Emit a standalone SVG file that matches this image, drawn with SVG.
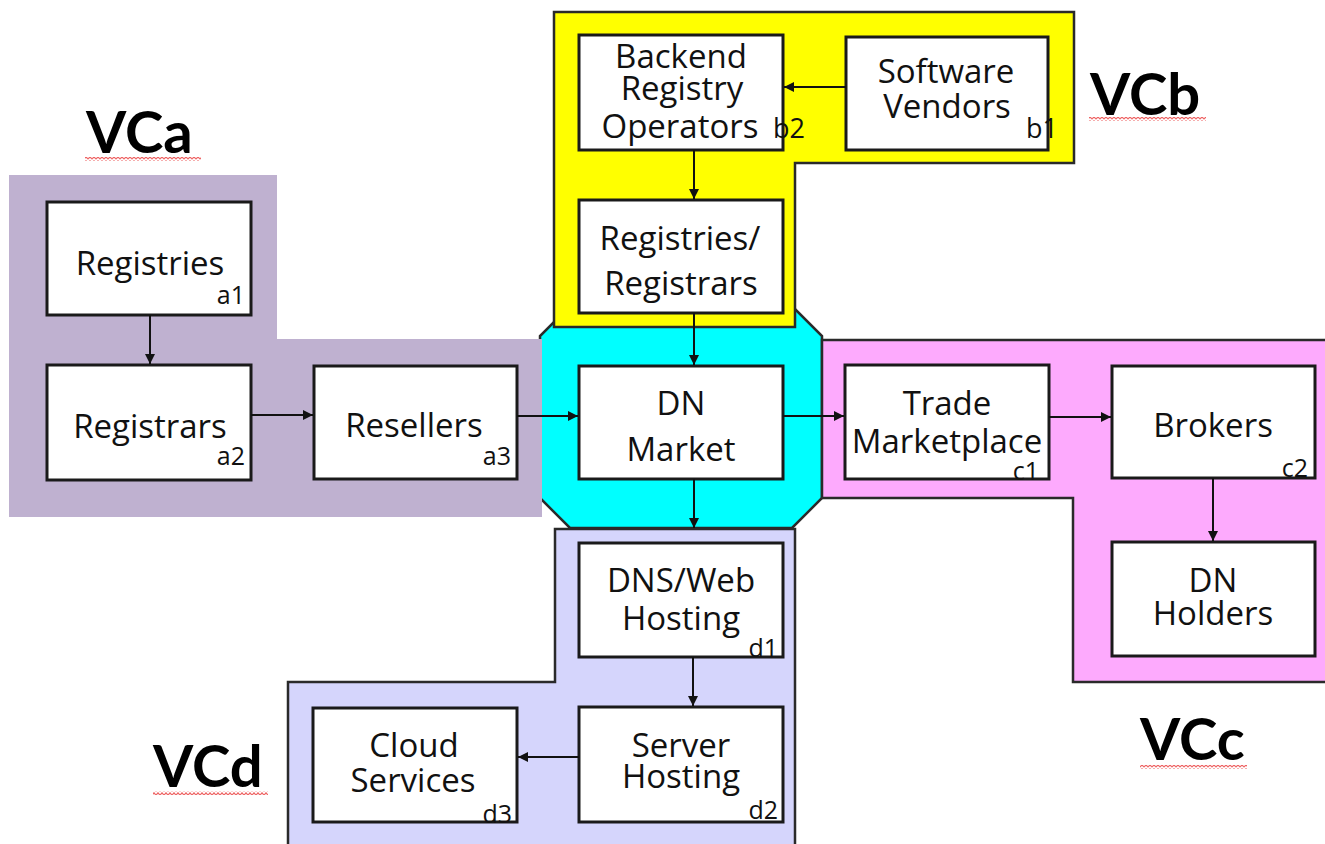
<svg xmlns="http://www.w3.org/2000/svg" width="1325" height="844" viewBox="0 0 1325 844">
<defs>
<marker id="ah" viewBox="0 0 10 10" refX="10" refY="5" markerWidth="10" markerHeight="10" markerUnits="userSpaceOnUse" orient="auto">
<path d="M0,0 L10,5 L0,10 z" fill="#111"/>
</marker>
<pattern id="squig" x="0" y="0" width="4" height="4" patternUnits="userSpaceOnUse">
<polyline points="0,3.2 2,0.8 4,3.2" fill="none" stroke="#EE6464" stroke-width="1.2"/>
</pattern>
<style>
.box{fill:#fff;stroke:#1a1a1a;stroke-width:3}
.reg{stroke:#2a2a2a;stroke-width:2.5}
.t{font-family:"Open Sans","Liberation Sans",sans-serif;font-size:33px;fill:#111;text-anchor:middle}
.s{font-family:"Open Sans","Liberation Sans",sans-serif;font-size:25px;fill:#111;text-anchor:end}
.sb{font-family:"Open Sans","Liberation Sans",sans-serif;font-size:27px;fill:#111;text-anchor:start}
.vc{font-family:Lato,"Liberation Sans",sans-serif;font-size:58px;font-weight:bold;fill:#000}
.conn line{stroke:#111;stroke-width:2;marker-end:url(#ah)}
</style>
</defs>
<rect width="1325" height="844" fill="#fff"/>

<g id="regions">
<polygon id="vc-center" class="reg" fill="#00FFFF" points="570,306 792,306 822,336 822,498 792,528 570,528 540,498 540,336"/>
<polygon id="vca-region" fill="#BFB1D0" points="9,175 277,175 277,339 542,339 542,517 9,517"/>
<polygon id="vcb-region" class="reg" fill="#FFFF00" points="554,12 1074,12 1074,163 795,163 795,327 554,327"/>
<polygon id="vcc-region" class="reg" fill="#FDAAFD" points="822,340 1330,340 1330,682 1073,682 1073,498 822,498"/>
<polygon id="vcd-region" class="reg" fill="#D5D5FC" points="555,529 795,529 795,850 288,850 288,682 555,682"/>
</g>

<g id="labels">
<text class="vc" x="86" y="153">VCa</text>
<rect x="85" y="157" width="116" height="4" fill="url(#squig)"/>
<text class="vc" x="1090" y="115">VCb</text>
<rect x="1089" y="117" width="117" height="4" fill="url(#squig)"/>
<text class="vc" x="1140" y="760">VCc</text>
<rect x="1140" y="765" width="107" height="4" fill="url(#squig)"/>
<text class="vc" x="153" y="787">VCd</text>
<rect x="153" y="791" width="115" height="4" fill="url(#squig)"/>
</g>

<g id="a1">
<rect class="box" x="47" y="202" width="204" height="113"/>
<text class="t" x="150" y="275">Registries</text>
<text class="s" x="245" y="304">a1</text>
</g>
<g id="a2">
<rect class="box" x="47" y="365" width="204" height="115"/>
<text class="t" x="150" y="438">Registrars</text>
<text class="s" x="245" y="465">a2</text>
</g>
<g id="a3">
<rect class="box" x="314" y="366" width="203" height="113"/>
<text class="t" x="414" y="437">Resellers</text>
<text class="s" x="511" y="465">a3</text>
</g>

<g id="b1">
<rect class="box" x="846" y="37" width="202" height="113"/>
<text class="t" x="946" y="83">Software</text>
<text class="t" x="947" y="118">Vendors</text>
<text class="sb" x="1026" y="138">b1</text>
</g>
<g id="b2">
<rect class="box" x="579" y="35" width="204" height="115"/>
<text class="t" x="681" y="68">Backend</text>
<text class="t" x="682" y="100">Registry</text>
<text class="t" x="680" y="138">Operators</text>
<text class="sb" x="773" y="138">b2</text>
</g>
<g id="b3">
<rect class="box" x="579" y="200" width="204" height="113"/>
<text class="t" x="680" y="250">Registries/</text>
<text class="t" x="681" y="295">Registrars</text>
</g>

<g id="dn-market">
<rect class="box" x="579" y="366" width="204" height="113"/>
<text class="t" x="681" y="415">DN</text>
<text class="t" x="681" y="461">Market</text>
</g>

<g id="c1">
<rect class="box" x="845" y="365" width="204" height="114"/>
<text class="t" x="947" y="415">Trade</text>
<text class="t" x="947" y="453">Marketplace</text>
<text class="s" x="1039" y="480">c1</text>
</g>
<g id="c2">
<rect class="box" x="1112" y="366" width="203" height="112"/>
<text class="t" x="1213" y="437">Brokers</text>
<text class="s" x="1308" y="477">c2</text>
</g>
<g id="c3">
<rect class="box" x="1112" y="542" width="203" height="114"/>
<text class="t" x="1213" y="592">DN</text>
<text class="t" x="1213" y="625">Holders</text>
</g>

<g id="d1">
<rect class="box" x="579" y="543" width="204" height="114"/>
<text class="t" x="681" y="592">DNS/Web</text>
<text class="t" x="681" y="630">Hosting</text>
<text class="s" x="778" y="657">d1</text>
</g>
<g id="d2">
<rect class="box" x="579" y="707" width="204" height="115"/>
<text class="t" x="681" y="757">Server</text>
<text class="t" x="681" y="788">Hosting</text>
<text class="s" x="778" y="819">d2</text>
</g>
<g id="d3">
<rect class="box" x="313" y="708" width="204" height="114"/>
<text class="t" x="414" y="757">Cloud</text>
<text class="t" x="413" y="792">Services</text>
<text class="s" x="512" y="823">d3</text>
</g>

<g id="connectors" class="conn">
<line x1="846" y1="87" x2="784" y2="87"/>
<line x1="694" y1="150" x2="694" y2="199"/>
<line x1="694" y1="313" x2="694" y2="365"/>
<line x1="150" y1="315" x2="150" y2="364"/>
<line x1="251" y1="415" x2="313" y2="415"/>
<line x1="517" y1="416" x2="578" y2="416"/>
<line x1="783" y1="416" x2="844" y2="416"/>
<line x1="1049" y1="417" x2="1111" y2="417"/>
<line x1="1213" y1="478" x2="1213" y2="541"/>
<line x1="694" y1="479" x2="694" y2="528"/>
<line x1="693" y1="657" x2="693" y2="706"/>
<line x1="579" y1="757" x2="518" y2="757"/>
</g>
</svg>
